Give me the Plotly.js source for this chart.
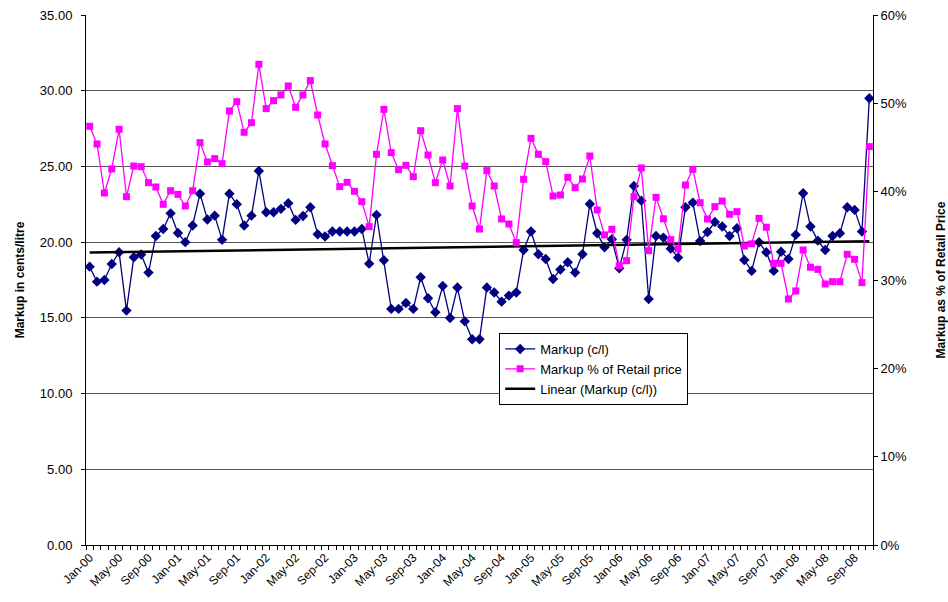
<!DOCTYPE html>
<html>
<head>
<meta charset="utf-8">
<script src="https://cdn.plot.ly/plotly-3.0.1.min.js"></script>
<style>
html,body{margin:0;padding:0;background:#fff;}
#chart{width:948px;height:602px;}
</style>
</head>
<body>
<div id="chart"></div>
<script>
// Month labels Jan-00 .. Nov-08
const monthNames = ['Jan','Feb','Mar','Apr','May','Jun','Jul','Aug','Sep','Oct','Nov','Dec'];
const years = ['00','01','02','03','04','05','06','07','08'];
const months = [];
years.forEach(y => monthNames.forEach(m => months.push(m + '-' + y)));
months.length = 107;

// Markup in cents/litre
const markup = [18.38,17.39,17.5,18.56,19.33,15.48,19.0,19.18,17.99,20.41,
  20.87,21.9,20.6,20.0,21.1,23.2,21.5,21.75,20.15,23.2,
  22.5,21.1,21.75,24.7,21.97,21.97,22.2,22.57,21.47,21.73,
  22.3,20.52,20.37,20.7,20.7,20.7,20.7,20.87,18.58,21.8,
  18.8,15.59,15.59,15.98,15.59,17.68,16.29,15.37,17.1,14.99,
  17.0,14.77,13.59,13.59,17.0,16.67,16.07,16.47,16.67,19.48,
  20.7,19.2,18.89,17.57,18.19,18.67,17.99,19.2,22.52,20.59,
  19.66,20.19,18.27,20.15,23.71,22.74,16.25,20.41,20.3,19.57,
  18.98,22.3,22.61,20.08,20.67,21.33,21.03,20.41,20.92,18.82,
  18.1,19.99,19.33,18.1,19.37,18.89,20.48,23.23,21.03,20.1,
  19.48,20.41,20.59,22.3,22.13,20.7,29.5];

// Markup as % of retail price
const markupPct = [47.4,45.4,39.85,42.57,47.06,39.43,42.9,42.83,41.02,40.53,
  38.57,40.11,39.7,38.38,40.11,45.55,43.36,43.74,43.17,49.13,
  50.19,46.72,47.81,54.42,49.4,50.3,50.95,51.96,49.55,50.95,
  52.57,48.68,45.4,42.94,40.57,41.06,40.04,38.87,36.04,44.23,
  49.32,44.42,42.49,42.98,41.7,46.9,44.15,41.02,43.59,40.64,
  49.4,42.9,38.38,35.77,42.38,40.64,36.91,36.34,34.23,41.4,
  46.04,44.23,43.4,39.51,39.62,41.62,40.45,41.43,44.04,37.93,
  35.1,35.74,31.62,32.19,39.43,42.68,33.32,39.36,36.93,34.57,
  33.51,40.75,42.53,38.75,36.91,38.3,38.94,37.44,37.74,33.85,
  34.1,36.98,35.97,31.89,31.89,27.85,28.76,33.4,31.44,31.21,
  29.55,29.81,29.81,32.91,32.34,29.7,45.1];

const tickLabels = ['Jan-00','May-00','Sep-00','Jan-01','May-01','Sep-01','Jan-02','May-02','Sep-02',
  'Jan-03','May-03','Sep-03','Jan-04','May-04','Sep-04','Jan-05','May-05','Sep-05',
  'Jan-06','May-06','Sep-06','Jan-07','May-07','Sep-07','Jan-08','May-08','Sep-08'];

const xIdx = months.map((_, i) => i);
const tickIdx = tickLabels.map(l => months.indexOf(l));

// Linear trendline (least squares) of markup
const n = markup.length;
const mx = xIdx.reduce((a,b)=>a+b,0)/n;
const my = markup.reduce((a,b)=>a+b,0)/n;
let sxy = 0, sxx = 0;
for (let i = 0; i < n; i++) { sxy += (xIdx[i]-mx)*(markup[i]-my); sxx += (xIdx[i]-mx)*(xIdx[i]-mx); }
const slope = sxy/sxx, icpt = my - slope*mx;
const trend = xIdx.map(x => icpt + slope*x);

const FONT = 'Liberation Sans, Arial, sans-serif';

const traces = [
  {x: xIdx, y: markup, name: 'Markup (c/l)', type: 'scatter', mode: 'lines+markers',
   line: {color: '#000080', width: 1.3},
   marker: {symbol: 'diamond', size: 8, color: '#000080'}},
  {x: xIdx, y: markupPct, name: 'Markup % of Retail price', type: 'scatter', mode: 'lines+markers', yaxis: 'y2',
   line: {color: '#FF00FF', width: 1.3},
   marker: {symbol: 'square', size: 7, color: '#FF00FF'}},
  {x: xIdx, y: trend, name: 'Linear (Markup (c/l))', type: 'scatter', mode: 'lines',
   line: {color: '#000000', width: 2.5}}
];

const layout = {
  width: 948, height: 602,
  margin: {l: 86, r: 75, t: 15, b: 57},
  paper_bgcolor: '#fff', plot_bgcolor: '#fff',
  font: {family: FONT, size: 12, color: '#000'},
  showlegend: true,
  legend: {x: 0.525, y: 0.4, xanchor: 'left', yanchor: 'top',
    bgcolor: '#fff', bordercolor: '#000', borderwidth: 1,
    font: {family: FONT, size: 13, color: '#000'}, itemwidth: 30, tracegroupgap: 0},
  xaxis: {
    range: [-0.5, 106.5], tickmode: 'array', tickvals: tickIdx, ticktext: tickLabels,
    tickangle: -45, ticks: '', showgrid: false, zeroline: false,
    showline: true, linecolor: '#000', linewidth: 1,
    tickfont: {family: FONT, size: 12},
    minor: {tickmode: 'linear', tick0: -0.5, dtick: 1, ticks: 'outside', ticklen: 4, tickcolor: '#000', showgrid: false}
  },
  yaxis: {
    range: [0, 35], dtick: 5, tickformat: '.2f', ticks: 'outside', ticklen: 4, tickcolor: '#000',
    showline: true, linecolor: '#000', linewidth: 1, zeroline: false,
    showgrid: true, gridcolor: '#555', gridwidth: 1,
    tickfont: {family: FONT, size: 13}, ticklabelstandoff: 6,
    title: {text: '<b>Markup in cents/litre</b>', font: {family: FONT, size: 12}, standoff: 12}
  },
  yaxis2: {
    range: [0, 60], dtick: 10, ticksuffix: '%', overlaying: 'y', side: 'right',
    ticks: 'outside', ticklen: 4, tickcolor: '#000', showgrid: false, zeroline: false,
    showline: true, linecolor: '#000', linewidth: 1,
    tickfont: {family: FONT, size: 13},
    title: {text: '<b>Markup as % of Retail Price</b>', font: {family: FONT, size: 12}, standoff: 30}
  }
};

Plotly.newPlot('chart', traces, layout, {displayModeBar: false, staticPlot: true});
</script>
</body>
</html>
